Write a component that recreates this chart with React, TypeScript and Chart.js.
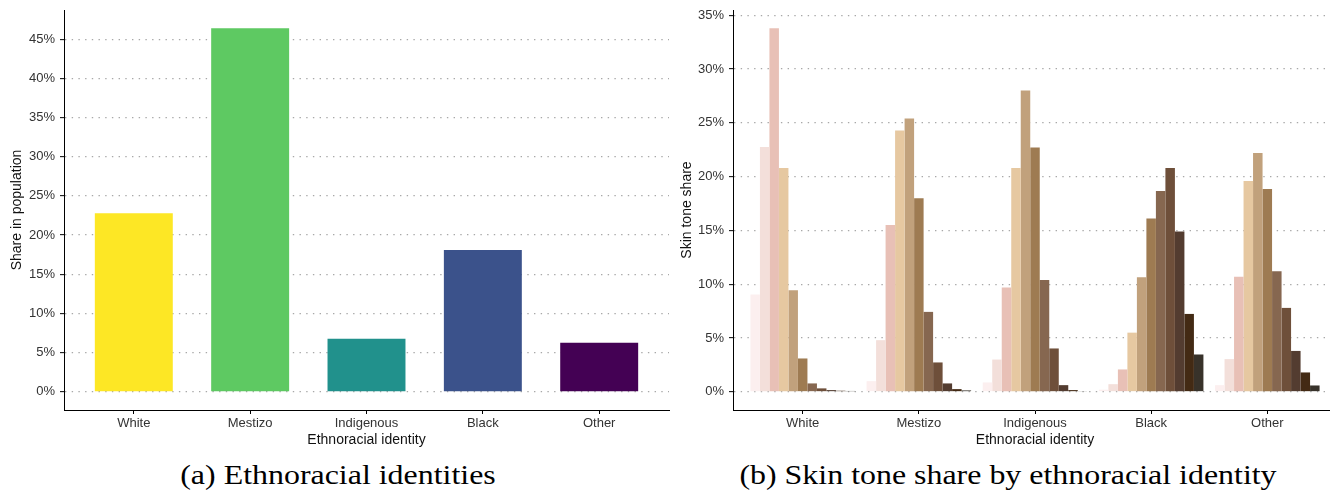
import React, { useEffect, useRef } from "react";
import { Chart, registerables } from "chart.js";

Chart.register(...registerables);

// Ethnoracial identity shares (percent of population)
const identities = ["White", "Mestizo", "Indigenous", "Black", "Other"];
const populationShare = [22.8, 46.4, 6.76, 18.1, 6.25];
const identityColors = ["#FDE725", "#5EC962", "#21918C", "#3B528B", "#440154"];
const shareTicks = [0, 5, 10, 15, 20, 25, 30, 35, 40, 45];

// Skin tone distribution (11 tones, lightest to darkest) within each identity
const toneColors = [
  "#FCEFEF",
  "#F3DFDA",
  "#E8C0B6",
  "#E6C8A1",
  "#C1A17C",
  "#9E7B52",
  "#866750",
  "#6E4F3A",
  "#533C30",
  "#432A14",
  "#38322A",
];
const toneWhite = [9.05, 22.75, 33.8, 20.8, 9.44, 3.1, 0.78, 0.32, 0.16, 0.1, 0.08];
const toneMestizo = [0.99, 4.8, 15.5, 24.3, 25.4, 18.0, 7.43, 2.73, 0.78, 0.25, 0.13];
const toneIndigenous = [0.87, 3.0, 9.7, 20.8, 28.0, 22.7, 10.4, 4.03, 0.62, 0.16, 0.07];
const toneBlack = [0.2, 0.71, 2.08, 5.5, 10.65, 16.1, 18.66, 20.8, 14.9, 7.24, 3.47];
const toneOther = [0.62, 3.04, 10.7, 19.6, 22.2, 18.85, 11.2, 7.8, 3.8, 1.8, 0.59];
const toneTicks = [0, 5, 10, 15, 20, 25, 30, 35];

const SANS = "'Liberation Sans', Arial, Helvetica, sans-serif";
const SERIF = "'Liberation Serif', 'Times New Roman', serif";

Chart.defaults.font.family = SANS;

type AxisSpec = {
  yTitle: string;
  yTicks: number[];
  dataMax: number;
  yWidth: number;
};

// ggplot-like axes: 0.6 category expansion on x, 5% expansion on y,
// dotted horizontal guides, solid black axis lines and tick marks.
function buildOptions(spec: AxisSpec): any {
  const yMin = -spec.dataMax * 0.05;
  const yMax = spec.dataMax * 1.05;
  return {
    animation: false,
    responsive: false,
    devicePixelRatio: 1,
    layout: { padding: { top: 10, right: 1, bottom: 0, left: 0 } },
    plugins: { legend: { display: false }, tooltip: { enabled: false } },
    scales: {
      x: {
        type: "linear",
        offset: false,
        min: 0.4,
        max: identities.length + 0.6,
        afterBuildTicks: (scale: any) => {
          scale.ticks = identities.map((_, i) => ({ value: i + 1 }));
        },
        afterFit: (scale: any) => {
          scale.height = 45;
          scale.paddingLeft = 0;
          scale.paddingRight = 0;
        },
        ticks: {
          autoSkip: false,
          maxRotation: 0,
          minRotation: 0,
          padding: 2,
          color: "#333333",
          font: { size: 13, family: SANS },
          callback: (v: number) => identities[Math.round(v) - 1] ?? "",
        },
        grid: {
          offset: false,
          drawOnChartArea: false,
          tickLength: 4,
          tickColor: "#000000",
          tickWidth: 1,
        },
        border: { display: true, color: "#000000", width: 1 },
        title: {
          display: true,
          text: "Ethnoracial identity",
          color: "#111111",
          font: { size: 14, family: SANS },
          padding: { top: 0, bottom: 6.6 },
        },
      },
      y: {
        type: "linear",
        min: yMin,
        max: yMax,
        afterBuildTicks: (scale: any) => {
          scale.ticks = spec.yTicks.map((v) => ({ value: v }));
        },
        afterFit: (scale: any) => {
          scale.width = spec.yWidth;
          scale.paddingTop = 0;
          scale.paddingBottom = 0;
        },
        ticks: {
          padding: 5,
          color: "#333333",
          font: { size: 13, family: SANS },
          callback: (v: number) => `${v}%`,
        },
        grid: {
          color: "#A8A8A8",
          lineWidth: 1.3,
          tickLength: 4,
          tickColor: "#000000",
          tickWidth: 1,
        },
        border: { display: true, color: "#000000", width: 1, dash: [1.4, 5.3] },
        title: {
          display: true,
          text: spec.yTitle,
          color: "#111111",
          font: { size: 14, family: SANS },
          padding: { top: 8.6, bottom: 0 },
        },
      },
    },
  };
}

function PopulationChart() {
  const ref = useRef<HTMLCanvasElement | null>(null);
  useEffect(() => {
    if (!ref.current) return;
    const chart = new Chart(ref.current, {
      type: "bar",
      data: {
        datasets: [
          {
            data: populationShare.map((v, i) => ({ x: i + 1, y: v })),
            backgroundColor: identityColors,
            borderWidth: 0,
            categoryPercentage: 1,
            barPercentage: 0.67,
          },
        ],
      },
      options: buildOptions({
        yTitle: "Share in population",
        yTicks: shareTicks,
        dataMax: Math.max(...populationShare),
        yWidth: 64,
      }),
    });
    return () => chart.destroy();
  }, []);
  return (
    <canvas
      ref={ref}
      width={670}
      height={455}
      style={{ position: "absolute", left: 0, top: 0, width: 670, height: 455 }}
    />
  );
}

function SkinToneChart() {
  const ref = useRef<HTMLCanvasElement | null>(null);
  useEffect(() => {
    if (!ref.current) return;
    const groups = [toneWhite, toneMestizo, toneIndigenous, toneBlack, toneOther];
    const datasets = toneColors.map((color, t) => ({
      label: `Tone ${t + 1}`,
      data: groups.map((g, i) => ({ x: i + 1, y: g[t] })),
      backgroundColor: color,
      borderWidth: 0,
      categoryPercentage: 0.9,
      barPercentage: 1,
    }));
    const chart = new Chart(ref.current, {
      type: "bar",
      data: { datasets },
      options: buildOptions({
        yTitle: "Skin tone share",
        yTicks: toneTicks,
        dataMax: Math.max(...groups.flat()),
        yWidth: 63,
      }),
    });
    return () => chart.destroy();
  }, []);
  return (
    <canvas
      ref={ref}
      width={668}
      height={455}
      style={{ position: "absolute", left: 670, top: 0, width: 668, height: 455 }}
    />
  );
}

function Caption({ text, center }: { text: string; center: number }) {
  return (
    <div
      style={{
        position: "absolute",
        left: center,
        top: 461,
        fontFamily: SERIF,
        fontSize: 28,
        lineHeight: "28px",
        color: "#000",
        whiteSpace: "nowrap",
        transform: "translateX(-50%) scaleX(1.14)",
        transformOrigin: "center",
      }}
    >
      {text}
    </div>
  );
}

export default function App() {
  return (
    <div
      style={{
        position: "fixed",
        left: 0,
        top: 0,
        width: 1330,
        height: 492,
        overflow: "hidden",
        background: "#ffffff",
      }}
    >
      <PopulationChart />
      <SkinToneChart />
      <Caption text="(a) Ethnoracial identities" center={337.5} />
      <Caption text="(b) Skin tone share by ethnoracial identity" center={1007.5} />
    </div>
  );
}
